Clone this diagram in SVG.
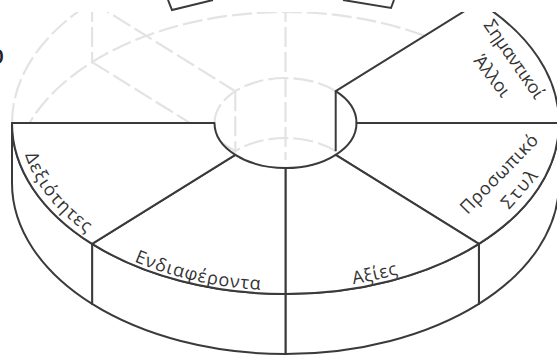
<svg xmlns="http://www.w3.org/2000/svg" width="557" height="356" viewBox="0 0 557 356">
<style>
.face{fill:#fff;stroke:#3a3a3a;stroke-width:2;stroke-linejoin:round}
.line{fill:none;stroke:#3a3a3a;stroke-width:2}
.ghost{fill:none;stroke:#e3e3e3;stroke-width:2.2;stroke-dasharray:20 5}
.lbl{font-family:"Open Sans","DejaVu Sans",sans-serif;font-size:18px;fill:#333}
</style>
<defs>
<clipPath id="clip"><rect x="-20" y="12" width="620" height="400"/></clipPath>
<path id="p-dex" d="M25.2,154.9 A265.3 165.9 0 0 0 239.4,286.4"/>
<path id="p-end" d="M134.1,261.3 A268 167.6 0 0 0 332,288.1"/>
<path id="p-axi" d="M353.2,284.3 A266.7 166.7 0 0 0 456.9,250.7"/>
</defs>
<rect width="557" height="356" fill="#fff"/>
<text x="-11.5" y="63.5" style="font-family:'Liberation Sans',Arial,sans-serif;font-size:28px;fill:#222">o</text>
<g id="lifted-piece" class="line">
<polyline points="168,0 172,10 213,0"/>
<polyline points="343,0 391,8 394,0"/>
</g>
<g clip-path="url(#clip)">
<g id="removed-ghost" class="ghost">
<path d="M12,123 A273.5 171 0 0 1 478.9,2.1"/>
<path d="M12,183 A273.5 171 0 0 1 285.5,12 A273.5 171 0 0 1 559,183"/>
<path d="M214.5,123 A71 45 0 0 1 335.7,91.2"/>
<path d="M214.5,183 A71 45 0 0 1 285.5,138 A71 45 0 0 1 356.5,183"/>
<path d="M92.1,2.1 L235.3,91.2 M92.1,62.1 L235.3,151.2 M92.1,2.1 L92.1,62.1 M235.3,91.2 L235.3,151.2 M285.5,-48 L285.5,160"/>
</g>
<g id="slice-simantikoi-alloi">
<path class="face" d="M335.7,91.2 L478.9,2.1 A273.5 171 0 0 1 559,123 L356.5,123 A71 45 0 0 0 335.7,91.2 Z"/>
<text class="lbl" transform="translate(483,25) rotate(55.2)" textLength="91.7" lengthAdjust="spacing">Σημαντικοί</text>
<text class="lbl" transform="translate(473,61) rotate(52.3)" textLength="47.4" lengthAdjust="spacing">Άλλοι</text>
</g>
<g id="slice-prosopiko-styl">
<path class="face" d="M559,123 L559,183 A273.5 171 0 0 1 478.9,303.9 L478.9,243.9 A273.5 171 0 0 0 559,123 Z"/>
<path class="face" d="M356.5,123 L559,123 A273.5 171 0 0 1 478.9,243.9 L335.7,154.8 A71 45 0 0 0 356.5,123 Z"/>
<text class="lbl" transform="translate(467.5,215) rotate(-45.7)" textLength="103" lengthAdjust="spacing">Προσωπικό</text>
<text class="lbl" transform="translate(509,210) rotate(-48.8)" textLength="45" lengthAdjust="spacing">Στυλ</text>
</g>
<g id="slice-axies">
<path class="face" d="M478.9,243.9 L478.9,303.9 A273.5 171 0 0 1 285.5,354 L285.5,294 A273.5 171 0 0 0 478.9,243.9 Z"/>
<path class="face" d="M335.7,154.8 L478.9,243.9 A273.5 171 0 0 1 285.5,294 L285.5,168 A71 45 0 0 0 335.7,154.8 Z"/>
<text class="lbl"><textPath href="#p-axi" textLength="46" lengthAdjust="spacing">Αξίες</textPath></text>
</g>
<g id="slice-endiaferonta">
<path class="face" d="M285.5,294 L285.5,354 A273.5 171 0 0 1 92.1,303.9 L92.1,243.9 A273.5 171 0 0 0 285.5,294 Z"/>
<path class="face" d="M285.5,168 L285.5,294 A273.5 171 0 0 1 92.1,243.9 L235.3,154.8 A71 45 0 0 0 285.5,168 Z"/>
<text class="lbl"><textPath href="#p-end" textLength="130" lengthAdjust="spacing">Ενδιαφέροντα</textPath></text>
</g>
<g id="slice-dexiotites">
<path class="face" d="M92.1,243.9 L92.1,303.9 A273.5 171 0 0 1 12,183 L12,123 A273.5 171 0 0 0 92.1,243.9 Z"/>
<path class="face" d="M235.3,154.8 L92.1,243.9 A273.5 171 0 0 1 12,123 L214.5,123 A71 45 0 0 0 235.3,154.8 Z"/>
<text class="lbl"><textPath href="#p-dex" textLength="101" lengthAdjust="spacing">Δεξιότητες</textPath></text>
</g>
<g id="connectors" class="line">
<path d="M335.7,91.2 L335.7,151.2"/>
</g>
</g>
</svg>
